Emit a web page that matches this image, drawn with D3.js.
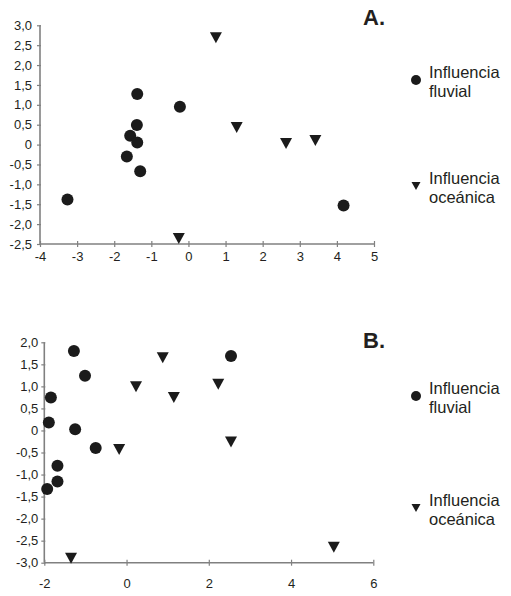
<!DOCTYPE html>
<html>
<head>
<meta charset="utf-8">
<script src="https://cdn.jsdelivr.net/npm/d3@7"></script>
<style>
  html, body { margin: 0; padding: 0; background: #fff; }
  svg { display: block; font-family: "Liberation Sans", Arial, sans-serif; }
</style>
</head>
<body>
<svg id="chart" width="511" height="596"></svg>
<script>
// Panel A data
const aFluvialX = [-1.38, -0.23, -1.39, -1.57, -1.38, -1.66, -1.30, -3.26, 4.18];
const aFluvialY = [1.27, 0.95, 0.49, 0.22, 0.05, -0.30, -0.67, -1.38, -1.53];
const aOceanicX = [0.74, 1.30, 2.63, 3.42, -0.26];
const aOceanicY = [2.69, 0.43, 0.03, 0.10, -2.36];
const aXTicks = [-4, -3, -2, -1, 0, 1, 2, 3, 4, 5];
const aYTicks = [-2.5, -2, -1.5, -1, -0.5, 0, 0.5, 1, 1.5, 2, 2.5, 3];

// Panel B data
const bFluvialX = [-1.28, -1.01, -1.84, -1.89, -1.25, -0.75, -1.68, -1.68, -1.93, 2.54];
const bFluvialY = [1.80, 1.24, 0.75, 0.18, 0.03, -0.40, -0.80, -1.16, -1.33, 1.69];
const bOceanicX = [0.88, 0.23, 1.15, -0.18, -1.35, 2.23, 2.54, 5.04];
const bOceanicY = [1.65, 0.99, 0.75, -0.43, -2.90, 1.05, -0.26, -2.65];
const bXTicks = [-2, 0, 2, 4, 6];
const bYTicks = [-3, -2.5, -2, -1.5, -1, -0.5, 0, 0.5, 1, 1.5, 2];

const legendLabels = [["Influencia", "fluvial"], ["Influencia", "oceánica"]];
const panelTitles = ["A.", "B."];

const svg = d3.select("#chart");
const markColor = "#1b1b1b";
const axisColor = "#808080";
const textColor = "#231f20";
const fontFam = '"Liberation Sans", Arial, sans-serif';

const fmt = d => d === 0 ? "0" : d3.format(".1f")(d).replace(".", ",").replace("−", "-");
const fmtX = d => String(d).replace("−", "-");

function tri(s, h) {
  return `M${-s/2},${-h/2}L${s/2},${-h/2}L0,${h/2}Z`;
}

function panel(cfg) {
  const x = d3.scaleLinear().domain(cfg.xDomain).range(cfg.xRange);
  const y = d3.scaleLinear().domain(cfg.yDomain).range(cfg.yRange);
  const g = svg.append("g");

  const ya = g.append("g").attr("transform", `translate(${cfg.xRange[0]},0)`)
    .call(d3.axisLeft(y).tickValues(cfg.yTicks).tickFormat(fmt).tickSize(3).tickPadding(cfg.yPad));
  const xa = g.append("g").attr("transform", `translate(0,${cfg.yRange[0]})`)
    .call(d3.axisBottom(x).tickValues(cfg.xTicks).tickFormat(fmtX).tickSize(3).tickPadding(cfg.xPad));

  [ya, xa].forEach(a => {
    a.select(".domain").attr("stroke", axisColor).attr("stroke-width", 1.6);
    a.selectAll(".tick line").attr("stroke", axisColor).attr("stroke-width", 1.2);
    a.selectAll(".tick text").attr("fill", textColor).style("font-size", "13px")
      .style("font-family", fontFam);
  });
  ya.selectAll(".tick line").attr("x1", 1).attr("x2", -3);
  xa.selectAll(".tick line").attr("y1", -3).attr("y2", 3);
  xa.select(".domain").attr("d", `M${cfg.xRange[0]},0H${cfg.xRange[1]}`);
  ya.select(".domain").attr("d", `M0,${cfg.yRange[1]}V${cfg.yRange[0]}`);

  g.append("g").selectAll("circle")
    .data(d3.zip(cfg.fx, cfg.fy)).join("circle")
    .attr("cx", d => x(d[0])).attr("cy", d => y(d[1]))
    .attr("r", 6).attr("fill", markColor);

  g.append("g").selectAll("path")
    .data(d3.zip(cfg.ox, cfg.oy)).join("path")
    .attr("transform", d => `translate(${x(d[0])},${y(d[1])})`)
    .attr("d", tri(12, 11)).attr("fill", markColor);

  g.append("text").attr("x", cfg.titleX).attr("y", cfg.titleY)
    .attr("fill", textColor).style("font-weight", "bold").style("font-size", "22px")
    .text(cfg.title);

  cfg.legendY.forEach((ly, i) => {
    if (i === 0) {
      g.append("circle").attr("cx", 416).attr("cy", ly + 2).attr("r", 5).attr("fill", markColor);
    } else {
      g.append("path").attr("transform", `translate(416,${ly + 2})`).attr("d", tri(9, 8)).attr("fill", markColor);
    }
    legendLabels[i].forEach((s, j) => {
      g.append("text").attr("x", 429).attr("y", ly + j * 19).attr("fill", textColor)
        .style("font-size", "16.5px").text(s);
    });
  });
}

panel({
  xDomain: [-4, 5], xRange: [40, 374],
  yDomain: [-2.5, 3], yRange: [244, 25.3],
  xTicks: aXTicks, yTicks: aYTicks,
  fx: aFluvialX, fy: aFluvialY, ox: aOceanicX, oy: aOceanicY,
  yPad: 5, xPad: 5,
  title: panelTitles[0], titleX: 363, titleY: 25,
  legendY: [78, 184]
});

panel({
  xDomain: [-2, 6], xRange: [44.3, 373.3],
  yDomain: [-3, 2], yRange: [562.7, 342.3],
  xTicks: bXTicks, yTicks: bYTicks,
  fx: bFluvialX, fy: bFluvialY, ox: bOceanicX, oy: bOceanicY,
  yPad: 3, xPad: 13,
  title: panelTitles[1], titleX: 363, titleY: 348,
  legendY: [394, 506]
});
</script>
</body>
</html>
